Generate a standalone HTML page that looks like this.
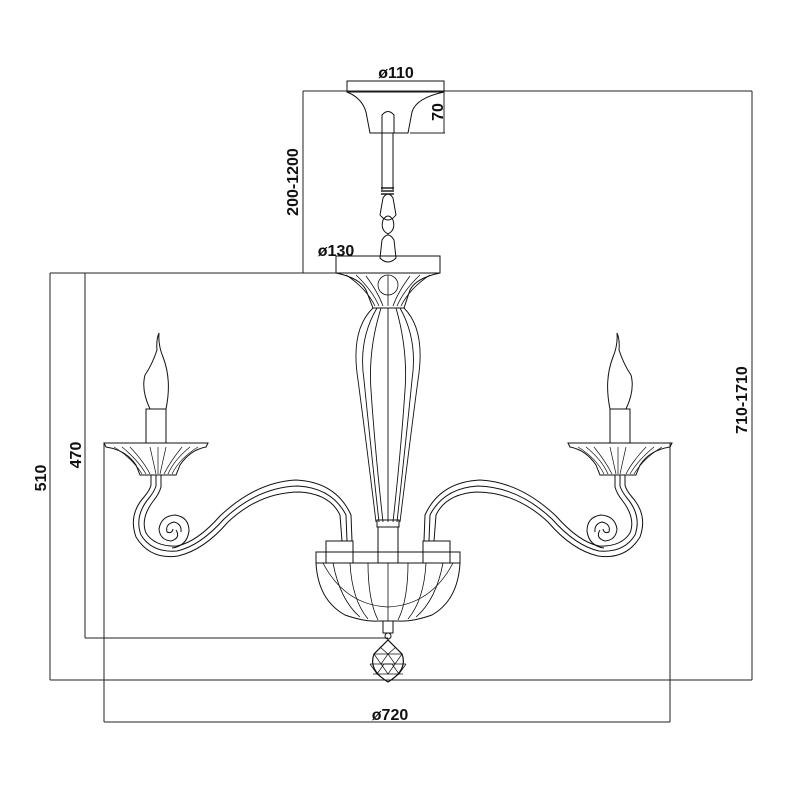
<!DOCTYPE html>
<html><head><meta charset="utf-8"><style>html,body{margin:0;padding:0;background:#fff}svg{display:block}</style></head>
<body>
<svg width="798" height="798" viewBox="0 0 798 798" xmlns="http://www.w3.org/2000/svg" fill="none" stroke="#111" stroke-width="1">
<g stroke="#222">
<line x1="303" y1="91" x2="752" y2="91"/>
<line x1="303" y1="91" x2="303" y2="273"/>
<line x1="50" y1="273" x2="336" y2="273"/>
<line x1="50" y1="273" x2="50" y2="680"/>
<line x1="85" y1="273" x2="85" y2="638"/>
<line x1="85" y1="638" x2="388" y2="638"/>
<line x1="50" y1="680" x2="752" y2="680"/>
<line x1="752" y1="91" x2="752" y2="680"/>
<line x1="347" y1="81" x2="444" y2="81"/>
<line x1="347" y1="81" x2="347" y2="92"/>
<line x1="444" y1="81" x2="444" y2="92"/>
<line x1="444" y1="91" x2="444" y2="133"/>
<line x1="410" y1="133" x2="445" y2="133"/>
<line x1="104" y1="443" x2="104" y2="722"/>
<line x1="670" y1="443" x2="670" y2="722"/>
<line x1="104" y1="722" x2="670" y2="722"/>
</g>
<g font-family="Liberation Sans, sans-serif" font-weight="bold" font-size="16" fill="#111" stroke="none">
<text x="396" y="78" text-anchor="middle">ø110</text>
<text x="336" y="256" text-anchor="middle">ø130</text>
<text x="390" y="720" text-anchor="middle">ø720</text>
<text transform="translate(443,112) rotate(-90)" text-anchor="middle">70</text>
<text transform="translate(298,182) rotate(-90)" text-anchor="middle">200-1200</text>
<text transform="translate(81,455) rotate(-90)" text-anchor="middle">470</text>
<text transform="translate(46,478) rotate(-90)" text-anchor="middle">510</text>
<text transform="translate(747,400) rotate(-90)" text-anchor="middle">710-1710</text>
</g>
<path d="M347 81 H444 V92 H347 Z"/>
<path d="M347 92 Q362 98 366 112 L370 133 H408 L412 112 Q416 98 444 92"/>
<path d="M382 133 V115 Q388 108 394 115 V133"/>
<line x1="382" y1="133" x2="382" y2="190"/><line x1="393" y1="133" x2="393" y2="190"/>
<g stroke-width="1.4"><line x1="381" y1="188" x2="394" y2="188"/><line x1="381" y1="191" x2="394" y2="191"/><line x1="381" y1="194" x2="394" y2="194"/></g>
<path d="M383 198 Q388 190 393 198 L396 215 Q388 225 380 215 Z"/>
<path d="M383 220 Q388 212 393 220 Q396 230 388 234 Q380 230 383 220 Z"/>
<path d="M382 240 Q388 230 394 240 L396 258 Q388 266 380 258 Z"/>
<rect x="336" y="256" width="104" height="17"/>
<path d="M336 273 Q360 278 366 290 L373 308 H404 L410 290 Q416 278 440 273"/>
<g stroke-width="0.8">
<path d="M346 275 Q366 288 375 306"/><path d="M356 275 Q372 290 379 306"/><path d="M366 276 Q378 292 383 306"/>
<path d="M430 275 Q410 288 401 306"/><path d="M420 275 Q404 290 397 306"/><path d="M410 276 Q398 292 393 306"/>
<circle cx="388" cy="285" r="10"/><line x1="388" y1="275" x2="388" y2="306"/>
</g>
<g stroke-width="0.9">
<path d="M373 308 Q350 330 358 380 Q366 440 376 522"/>
<path d="M404 308 Q426 330 418 380 Q410 440 400 522"/>
<path d="M377 308 Q358 340 364 380 Q370 440 379 522"/>
<path d="M400 308 Q418 340 412 380 Q406 440 397 522"/>
<path d="M381 308 Q368 350 371 390 Q375 450 383 522"/>
<path d="M396 308 Q408 350 405 390 Q401 450 393 522"/>
<line x1="388" y1="308" x2="388" y2="522"/>
</g>
<rect x="377" y="520" width="22" height="7"/>
<rect x="378" y="527" width="20" height="36"/>
<rect x="316" y="552" width="144" height="11"/>
<rect x="326" y="541" width="27" height="22"/>
<rect x="423" y="541" width="27" height="22"/>
<path d="M316 563 Q318 600 345 615 Q365 622 378 621 H398 Q412 622 432 615 Q458 600 460 563"/>
<path d="M323 563 Q345 605 388 607 Q431 605 453 563" stroke-width="0.8"/>
<g stroke-width="0.8">
<path d="M333 563 Q340 600 360 617"/><path d="M350 563 Q352 600 368 619"/><path d="M368 563 Q368 600 378 620"/>
<path d="M443 563 Q436 600 416 617"/><path d="M426 563 Q424 600 408 619"/><path d="M408 563 Q408 600 398 620"/>
<line x1="388" y1="563" x2="388" y2="621"/>
</g>
<rect x="383" y="621" width="10" height="12"/>
<circle cx="388" cy="636" r="3"/>
<path d="M388 640 L374 654 Q368 670 388 682 Q408 670 402 654 Z" stroke-width="1.2"/>
<g stroke-width="0.7"><path d="M374 654 H402 M370 664 H406 M373 674 H403"/>
<path d="M380 647 L388 654 L396 647 M374 654 L381 664 L388 654 L395 664 L402 654 M370 664 L377 674 L384 664 L392 664 L399 674 L406 664 M377 674 L388 682 L399 674 M381 664 L388 674 L395 664"/></g>
<g id="arm">
<path d="M104 443 H208 L206 447 Q190 450 180 465 L176 475 H140 L136 465 Q126 450 106 447 Z"/>
<g stroke-width="0.7">
<path d="M114 447 Q132 458 142 474"/><path d="M122 447 Q138 460 146 474"/><path d="M130 447 Q144 462 150 474"/>
<path d="M198 447 Q180 458 172 474"/><path d="M190 447 Q174 460 168 474"/><path d="M182 447 Q170 462 164 474"/>
<path d="M150 447 L156 474 M158 447 V474 M166 447 L160 474"/>
</g>
<rect x="146" y="409" width="20" height="34"/>
<path d="M150 409 Q141 390 145 375 Q152 365 157 350 Q156 340 159 333 Q158 345 163 357 Q172 380 166 409"/>
<path d="M151 475 V485 Q150 490 144 497 Q128 515 136 537 Q150 560 178 556 Q204 550 228 522 Q260 492 300 492 Q330 494 340 515 L342 541"/>
<path d="M156 475 V486 Q154 492 149 498 Q134 516 141 535 Q152 553 177 551 Q200 546 224 519 Q258 487 298 486 Q332 488 346 515 L347 541"/>
<path d="M161 475 V487 Q159 494 154 500 Q140 518 146 533 Q155 547 177 546 Q197 542 220 516 Q256 482 296 480 Q336 482 351 515 L352 541"/>
<path d="M176 530 Q181 538 171 541 Q160 540 159 529 Q161 516 175 515 Q189 517 189 531 Q187 546 172 548"/>
<path d="M173 529 Q172 534 167 532 Q165 524 174 522 Q182 524 181 532"/>
</g>
<use href="#arm" transform="translate(776,0) scale(-1,1)"/>
</svg>
</body></html>
